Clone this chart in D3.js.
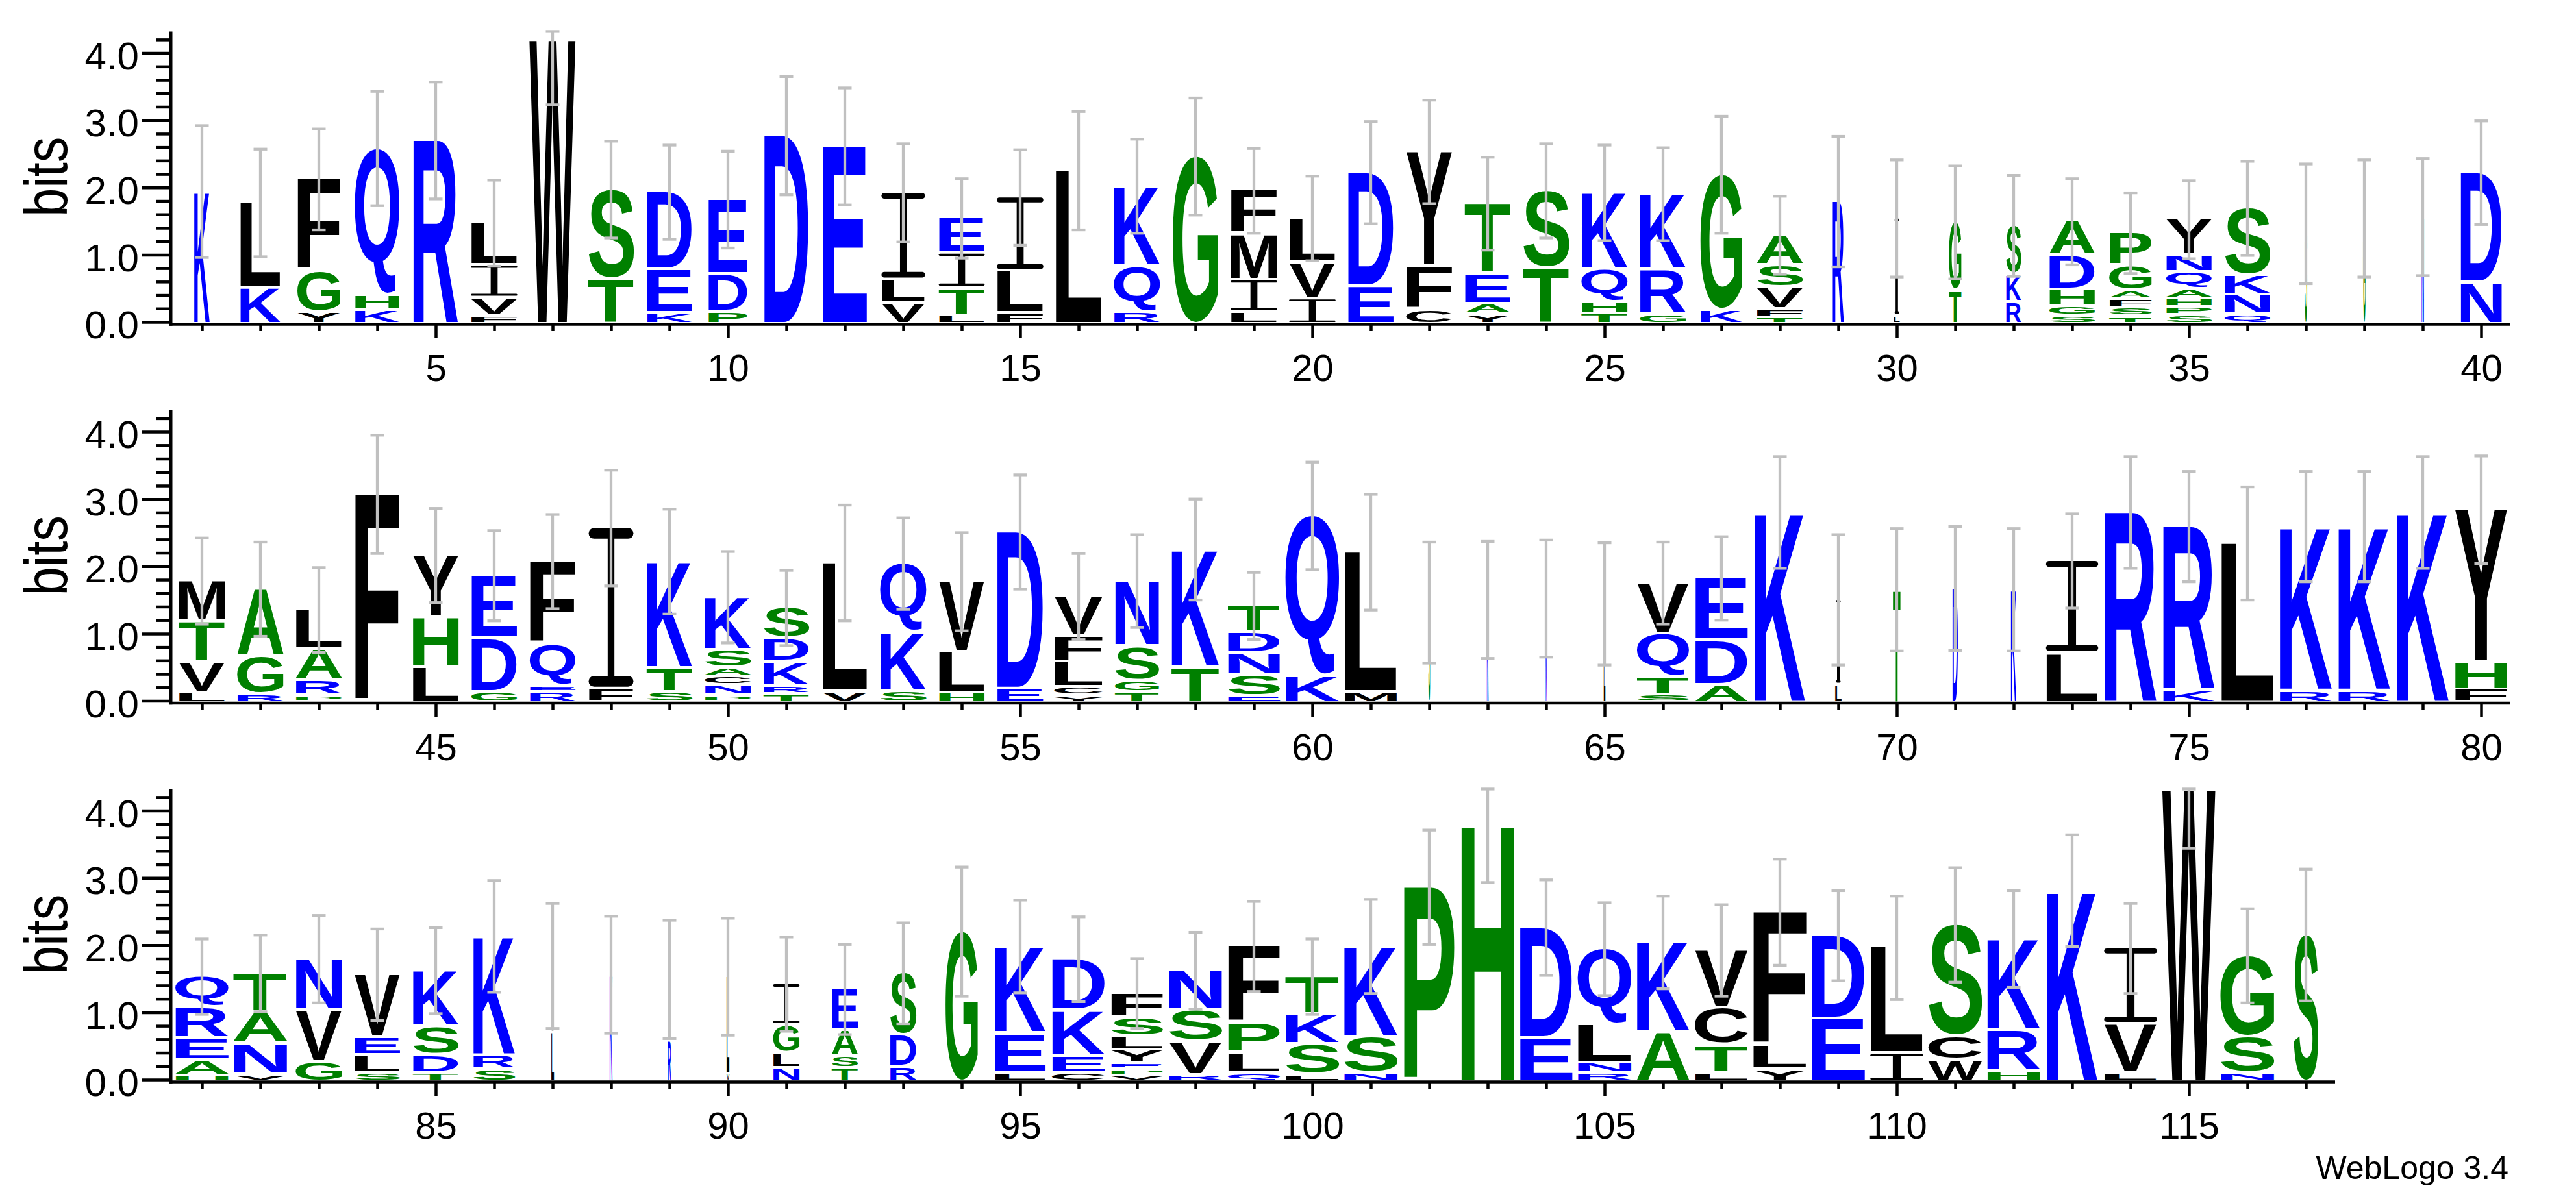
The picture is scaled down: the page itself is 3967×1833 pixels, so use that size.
<!DOCTYPE html>
<html><head><meta charset="utf-8">
<script src="https://cdn.jsdelivr.net/npm/d3@7"></script>
<style>html,body{margin:0;padding:0;background:#fff}svg{display:block}</style>
</head><body>
<svg id="chart" width="3967" height="1833"></svg>
<script>
// ---- DATA ----
// stacks: letters bottom->top with heights in bits
const stacks = [
"K1.94","K.54 L1.23","Y.18 G.61 F1.33","K.2 H.23 Q2.15","R2.70","F.12 V.27 I.49 L.59","W4.19","T.67 S1.30","K.16 E.65 D1.12","P.18 D.56 E1.08",
"D2.77","E2.61","V.32 L.34 I1.26","L.13 T.41 I.52 E.48","F.16 L.63 I1.06","L2.25","R.18 Q.68 K1.16","G2.46","L.18 I.48 M.68 F.61","I.38 V.54 L.62",
"E.56 D1.66","C.21 F.65 Y1.67","Y.14 A.16 E.45 T1.01","T.83 S1.12","T.15 H.18 Q.49 K1.10","G.15 R.66 K1.09","K.21 G1.98","T.10 F.12 V.33 S.33 A.41","R1.79","L.12 I1.42",
"T.50 G.98","R.33 K.41 S.69","S.12 G.14 H.25 D.51 A.47","T.11 S.13 F.13 A.13 G.37 P.45","S.13 P.12 H.13 A.14 Q.25 N.26 Y.49","Q.14 N.29 K.29 S.97","S1.46","G1.54","N1.56","N.62 D1.60",
"L.15 V.46 T.61 M.56","R.13 G.57 A.96","P.11 R.23 A.47 L.54","F3.07","L.54 H.74 Y.88","G.16 D.80 E.90","R.16 E.09 Q.63 F1.19","F.21 I2.36","S.16 T.36 K1.55","P.11 N.15 C.13 A.13 S.27 K.75",
"T.13 R.12 K.36 D.35 S.42","V.17 L1.88","S.17 K.88 Q.99","H.15 L.61 V1.01","E.21 D2.30","Y.11 C.13 L.37 F.38 V.56","T.16 G.17 S.51 N.94","T.53 K1.72","E.10 S.32 N.32 D.31 T.36","K.40 Q2.35",
"M.16 L2.05","S1.46","K1.50","N1.52","L1.44","S.12 T.26 Q.65 V.72","A.27 D.66 E.89","K2.80","L.27 I1.23","T1.65",
"D1.67","K1.65","L.74 I1.34","R2.80","K.19 R2.40","L2.34","R.18 K2.41","R.18 K2.41","K2.80","F.20 H.41 Y2.23",
"H.09 A.23 E.33 R.46 Q.42","V.11 N.47 A.46 T.54","G.29 V.77 N.73","S.13 L.27 E.27 V.89","T.13 D.27 S.43 K.79","S.18 R.21 K1.74","L.73 I.96","K1.56","R.61 K.88","V.11 L1.42",
"N.20 L.23 G.41 I.58","T.20 S.18 A.39 E.57","R.22 D.47 S.89","G2.20","L.13 E.59 K1.26","C.13 E.25 K.68 D.73","V.09 P.09 E.09 Y.20 L.20 S.28 F.33","R.10 V.50 S.47 N.55","Q.13 L.30 P.44 F1.11","L.11 S.45 K.44 T.53",
"N.13 S.54 K1.31","P2.86","H3.81","E.65 D1.61","R.13 N.15 L.57 Q1.09","A.74 K1.30","L.13 T.42 C.55 V.82","Y.18 L.36 F1.95","E.94 D1.20","I.42 L1.54",
"W.32 C.35 S1.63","H.16 R.60 K1.33","K2.81","L.13 V.73 I1.09","W4.30","N.13 S.54 G1.17","S2.15"
];
// error bar half-lengths (bits)
const errors = [
.98,.80,.75,.85,.87,.64,.96,.72,.70,.72,.88,.87,.73,.59,.71,.88,.70,.87,.63,.63,
.76,.77,.69,.70,.71,.69,.87,.58,.97,.87,.84,.75,.64,.60,.58,.70,.89,.87,.87,.77,
.64,.70,.63,.88,.70,.67,.70,.86,.78,.68,.56,.86,.68,.73,.85,.64,.69,.75,.50,.80,
.86,.90,.87,.87,.91,.61,.62,.83,.97,.91,.92,.91,.70,.83,.82,.84,.82,.82,.83,.80,
.56,.57,.65,.68,.64,.83,.93,.87,.88,.87,.70,.67,.75,.96,.69,.63,.52,.57,.67,.56,
.70,.85,.88,.71,.69,.69,.68,.79,.67,.77,.85,.72,.83,.67,.86,.70,.98
];
// fraction of occupied (non-gap) residues -> stack width
const widths = [
.29,.75,.80,.83,.84,.86,.86,.85,.84,.73,.83,.82,.81,.85,.86,.86,.86,.84,.86,.86,
.85,.86,.85,.86,.86,.86,.78,.86,.21,.11,.23,.28,.85,.79,.85,.85,.04,.04,.04,.77,
.86,.86,.86,.83,.86,.85,.85,.83,.85,.86,.85,.84,.86,.85,.86,.90,.82,.89,.97,1.0,
.97,.03,.03,.03,.03,.97,.98,.95,.12,.14,.10,.10,.97,.98,.97,.98,.98,.97,.98,.98,
.99,1.0,.86,.85,.85,.78,.05,.05,.06,.05,.49,.49,.49,.60,.95,.99,.97,.99,.97,1.0,
1.0,.95,.99,.98,1.0,.98,.99,1.0,.99,.98,1.0,.99,.95,.98,.99,1.0,.46
];
const yTickValues = [0,1,2,3,4];
const yTickLabels = ["0.0","1.0","2.0","3.0","4.0"];
const yMinorTicks = [0.2,0.4,0.6,0.8,1.2,1.4,1.6,1.8,2.2,2.4,2.6,2.8,3.2,3.4,3.6,3.8,4.2];
const rowStarts = [1,41,81];
const perRow = 40;
const colors = {R:"#0000ff",K:"#0000ff",D:"#0000ff",E:"#0000ff",N:"#0000ff",Q:"#0000ff",
  S:"#008000",G:"#008000",H:"#008000",T:"#008000",A:"#008000",P:"#008000",
  Y:"#000000",V:"#000000",M:"#000000",C:"#000000",L:"#000000",F:"#000000",I:"#000000",W:"#000000"};

// ---- LAYOUT ----
const W = 3967, H = 1833;
const bases = [496, 1079.5, 1663];   // letter baseline per row
const unit = 103.6;                  // px per bit
const yMax = 4.32;
const xLeft = 266, stackW = 90, fullInk = 83, axisX = 263;
const gap = 4.5;
const FONT_FAMILY = '"Liberation Sans", Arial, Helvetica, sans-serif';

const svg = d3.select("#chart");
svg.append("rect").attr("width",W).attr("height",H).attr("fill","#fff");

const ctx = document.createElement("canvas").getContext("2d");
ctx.font = 'bold 100px ' + FONT_FAMILY;
const mcache = {};
function metrics(c){
  if(!mcache[c]){ const m = ctx.measureText(c);
    mcache[c] = {l:m.actualBoundingBoxLeft, r:m.actualBoundingBoxRight, a:m.actualBoundingBoxAscent, d:m.actualBoundingBoxDescent}; }
  return mcache[c];
}

const parsed = stacks.map(s => s.split(" ").map(t => ({c:t[0], h:parseFloat(t.slice(1))})));
const totals = parsed.map(st => d3.sum(st, d => d.h));

rowStarts.forEach((start, r) => {
  const n = Math.min(perRow, stacks.length - start + 1);
  const rowPos = d3.range(start, start + n);
  const x = d3.scaleLinear().domain([start - 0.5, start + perRow - 0.5]).range([xLeft, xLeft + perRow*stackW]);
  const y = d3.scaleLinear().domain([0, yMax]).range([bases[r], bases[r] - yMax*unit]);
  const g = svg.append("g");
  const lineY = bases[r] + 3.5;

  // letters
  rowPos.forEach(p => {
    const i = p - 1;
    const cx = x(p);
    const w = widths[i] * fullInk;
    let cum = 0;
    parsed[i].forEach((L, k) => {
      const yb = y(cum), yt = y(cum + L.h);
      cum += L.h;
      const isTop = k === parsed[i].length - 1;
      const y0 = yt + (isTop ? 0 : gap);
      const hh = Math.max(yb - y0, 0.8);
      const x0 = cx - w/2;
      const col = colors[L.c];
      if (L.c === "I") {
        const narrow = w < 25;
        const t = narrow ? Math.max(hh*0.03, 0.6) : Math.max(hh*0.068, 0.6);
        const sw = narrow ? Math.max(w*0.4, 1.5) : w*0.15;
        const bw = narrow ? w*0.7 : w;
        g.append("rect").attr("x",cx-bw/2).attr("y",yb-hh).attr("width",bw).attr("height",t).attr("rx",Math.min(t/2,bw/4)).attr("fill",col);
        g.append("rect").attr("x",cx-bw/2).attr("y",yb-t).attr("width",bw).attr("height",t).attr("rx",Math.min(t/2,bw/4)).attr("fill",col);
        g.append("rect").attr("x",cx-sw/2).attr("y",yb-hh+t*0.5).attr("width",sw).attr("height",Math.max(hh-t,0)).attr("fill",col);
      } else {
        const m = metrics(L.c);
        const sx = w/(m.l + m.r), sy = hh/(m.a + m.d);
        g.append("text").text(L.c)
          .attr("font-family", FONT_FAMILY).attr("font-weight","bold").attr("font-size",100)
          .attr("fill", col)
          .attr("transform", `translate(${x0 + m.l*sx},${(yb-hh) + m.a*sy}) scale(${sx},${sy})`);
      }
    });
  });

  // error bars
  const eg = svg.append("g").attr("stroke","#c0c0c0").attr("stroke-width",4.3).attr("fill","none");
  rowPos.forEach(p => {
    const i = p - 1, cx = x(p);
    const lo = y(totals[i] - errors[i]);
    const hi = y(Math.min(totals[i] + errors[i], yMax));
    eg.append("line").attr("x1",cx).attr("x2",cx).attr("y1",lo).attr("y2",hi);
    eg.append("line").attr("x1",cx-10.5).attr("x2",cx+10.5).attr("y1",lo).attr("y2",lo);
    eg.append("line").attr("x1",cx-10.5).attr("x2",cx+10.5).attr("y1",hi).attr("y2",hi);
  });

  // y axis (major + minor)
  const yAxisG = svg.append("g").attr("transform",`translate(${axisX},0)`);
  yAxisG.call(d3.axisLeft(y).tickValues(yTickValues).tickFormat((d,k)=>yTickLabels[k]).tickSize(44).tickSizeOuter(0).tickPadding(5));
  const yMinorG = svg.append("g").attr("transform",`translate(${axisX},0)`);
  yMinorG.call(d3.axisLeft(y).tickValues(yMinorTicks).tickFormat("").tickSize(22).tickSizeOuter(0));
  [yAxisG, yMinorG].forEach(a => {
    a.select(".domain").remove();
    a.selectAll(".tick line").attr("stroke","#000").attr("stroke-width",4.5);
  });
  yAxisG.selectAll(".tick text").attr("font-family",FONT_FAMILY).attr("font-size",60).attr("fill","#000").attr("dy","0.41em");

  // x axis ticks
  const xg = svg.append("g").attr("transform",`translate(0,${lineY})`);
  xg.call(d3.axisBottom(x).tickValues(rowPos.filter(p => p % 5 !== 0)).tickFormat("").tickSize(10.5).tickSizeOuter(0));
  const xg5 = svg.append("g").attr("transform",`translate(0,${lineY})`);
  xg5.call(d3.axisBottom(x).tickValues(rowPos.filter(p => p % 5 === 0)).tickFormat(d3.format("d")).tickSize(21.5).tickSizeOuter(0));
  [xg, xg5].forEach(a => {
    a.select(".domain").remove();
    a.selectAll(".tick line").attr("stroke","#000").attr("stroke-width",4.5);
  });
  xg5.selectAll(".tick text").attr("font-family",FONT_FAMILY).attr("font-size",58).attr("fill","#000")
     .attr("y", 87.5).attr("dy", 0);

  // axis lines
  svg.append("line").attr("x1",axisX-2.5).attr("x2",x(start + n - 0.5)).attr("y1",lineY).attr("y2",lineY)
     .attr("stroke","#000").attr("stroke-width",4.5);
  svg.append("line").attr("x1",axisX).attr("x2",axisX).attr("y1",lineY+2.25).attr("y2",y(yMax))
     .attr("stroke","#000").attr("stroke-width",5);

  // bits label
  svg.append("text").text("bits")
    .attr("transform",`translate(103,${bases[r] - yMax*unit/2}) rotate(-90)`)
    .attr("text-anchor","middle").attr("font-family",FONT_FAMILY).attr("font-size",92)
    .attr("textLength",123).attr("lengthAdjust","spacingAndGlyphs").attr("fill","#000");
});

svg.append("text").text("WebLogo 3.4").attr("x",3863).attr("y",1816).attr("text-anchor","end")
  .attr("font-family",FONT_FAMILY).attr("font-size",50).attr("fill","#000");
</script>
</body></html>
